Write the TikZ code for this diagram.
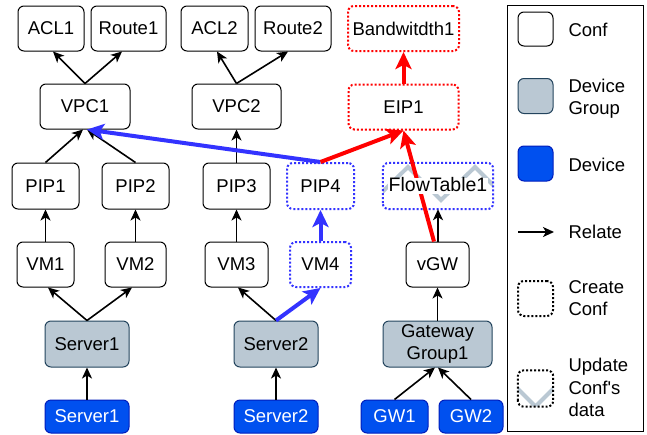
\documentclass[tikz,border=0pt]{standalone}
\usepackage{fontspec}
\setmainfont{Liberation Sans}
\usetikzlibrary{arrows.meta}
\definecolor{grpfill}{HTML}{BAC8D3}
\definecolor{grpline}{HTML}{23445D}
\definecolor{devfill}{HTML}{0050EF}
\definecolor{devline}{HTML}{001DBC}
\definecolor{newblue}{HTML}{3333FF}
\definecolor{newred}{HTML}{FF0000}

\begin{document}
\begin{tikzpicture}[x=1pt,y=-1pt,
  every node/.style={font=\fontsize{18.5}{22.5}\selectfont},
  box/.style={draw, line width=1pt, rounded corners=6pt, fill=white,
    inner sep=0pt, align=center},
  conf/.style={box},
  grp/.style={box, fill=grpfill, draw=grpline},
  dev/.style={box, fill=devfill, draw=devline, text=white},
  newconf/.style={box, draw=#1, line width=2pt, dash pattern=on 2pt off 2pt},
  rel/.style={-{Stealth[length=11pt,width=10pt,inset=3pt]}, line width=1.6pt},
  relblue/.style={-{Stealth[length=17pt,width=16pt,inset=4pt]}, line width=4pt, draw=newblue},
  relred/.style={-{Stealth[length=17pt,width=16pt,inset=4pt]}, line width=4pt, draw=newred},
  legtext/.style={anchor=west, align=left},
]
\useasboundingbox (0,0) rectangle (647,434);

% ---- top row: configuration entries
\node[conf, minimum width=66pt, minimum height=45pt] (acl1) at (51,28.5) {ACL1};
\node[conf, minimum width=75pt, minimum height=45pt] (route1) at (128.5,28.5) {Route1};
\node[conf, minimum width=67pt, minimum height=45pt] (acl2) at (214.5,28.5) {ACL2};
\node[conf, minimum width=76pt, minimum height=45pt] (route2) at (293,28.5) {Route2};
\node[newconf=newred, minimum width=111pt, minimum height=45pt] (bw1) at (403.5,28.5) {Bandwitdth1};

% ---- VPC / EIP row
\node[conf, minimum width=90pt, minimum height=45pt] (vpc1) at (85,106.5) {VPC1};
\node[conf, minimum width=89pt, minimum height=45pt] (vpc2) at (236.5,106.5) {VPC2};
\node[newconf=newred, minimum width=110pt, minimum height=45pt] (eip1) at (403.5,107) {EIP1};

% ---- PIP / flow table row
\node[conf, minimum width=67pt, minimum height=46pt] (pip1) at (45.5,186) {PIP1};
\node[conf, minimum width=67pt, minimum height=46pt] (pip2) at (135.5,186) {PIP2};
\node[conf, minimum width=67pt, minimum height=46pt] (pip3) at (236.5,186) {PIP3};
\node[newconf=newblue, minimum width=67pt, minimum height=46pt] (pip4) at (320.5,186) {PIP4};

% flow table: transparent box with the zigzag update marking
\node[minimum width=110pt, minimum height=46pt, inner sep=0pt] (ft) at (438,186) {};
\begin{scope}
  \clip[rounded corners=6pt] (ft.south west) rectangle (ft.north east);
  \draw[grpfill, line width=4pt] (340,167) -- (374,200) -- (408,167) -- (441,200)
    -- (475,167) -- (508,200) -- (541,167);
\end{scope}
\draw[newblue, line width=2pt, dash pattern=on 2pt off 2pt, rounded corners=6pt]
  (ft.south west) rectangle (ft.north east);

% ---- VM row
\node[conf, minimum width=57pt, minimum height=45pt] (vm1) at (45.5,264.5) {VM1};
\node[conf, minimum width=61pt, minimum height=45pt] (vm2) at (135.5,264.5) {VM2};
\node[conf, minimum width=63pt, minimum height=45pt] (vm3) at (236.5,264.5) {VM3};
\node[newconf=newblue, minimum width=61pt, minimum height=45pt] (vm4) at (320.5,264.5) {VM4};
\node[conf, minimum width=63pt, minimum height=45pt] (vgw) at (437.5,264.5) {vGW};

% ---- device groups
\node[grp, minimum width=84pt, minimum height=46pt] (srvgrp1) at (87,344) {Server1};
\node[grp, minimum width=84pt, minimum height=46pt] (srvgrp2) at (276,344) {Server2};
\node[grp, minimum width=109pt, minimum height=46pt] (gwgrp1) at (437.5,344) {Gateway\\[-1pt]Group1};

% ---- devices
\node[dev, minimum width=84pt, minimum height=33pt] (srvdev1) at (87,416.5) {Server1};
\node[dev, minimum width=84pt, minimum height=33pt] (srvdev2) at (276,416.5) {Server2};
\node[dev, minimum width=67pt, minimum height=33pt] (gw1) at (394.5,416.5) {GW1};
\node[dev, minimum width=64pt, minimum height=33pt] (gw2) at (471,416.5) {GW2};

% ---- relations
\draw[rel] (vpc1.north) -- ([xshift=2pt]acl1.south);
\draw[rel] (vpc1.north) -- ([xshift=-6.5pt]route1.south);
\draw[rel] (vpc2.north) -- ([xshift=2.5pt]acl2.south);
\draw[rel] (vpc2.north) -- ([xshift=-5pt]route2.south);
\draw[rel] (pip1.north) -- ([xshift=-2pt]vpc1.south);
\draw[rel] (pip2.north) -- ([xshift=2pt]vpc1.south);
\draw[rel] (pip3.north) -- (vpc2.south);
\draw[rel] (vm1.north) -- (pip1.south);
\draw[rel] (vm2.north) -- (pip2.south);
\draw[rel] (vm3.north) -- (pip3.south);
\draw[rel] (srvgrp1.north) -- ([xshift=2.5pt]vm1.south);
\draw[rel] (srvgrp1.north) -- ([xshift=-3.5pt]vm2.south);
\draw[rel] (srvgrp2.north) -- ([xshift=1.5pt]vm3.south);
\draw[rel] (srvdev1.north) -- (srvgrp1.south);
\draw[rel] (srvdev2.north) -- (srvgrp2.south);
\draw[rel] (gw1.north) -- ([xshift=-2.5pt]gwgrp1.south);
\draw[rel] (gw2.north) -- ([xshift=0.5pt]gwgrp1.south);
\draw[rel] (gwgrp1.north) -- (vgw.south);
\draw[rel] ([xshift=0.5pt]vgw.north) -- (ft.south);

% new relations
\draw[relblue] (srvgrp2.north) -- (vm4.south);
\draw[relblue] (vm4.north) -- (pip4.south);
\draw[relblue] (pip4.north) -- ([xshift=2pt]vpc1.south);
\draw[relred] (pip4.north) -- (eip1.south);
\draw[relred] ([xshift=-3.5pt]vgw.north) -- (eip1.south);
\draw[relred] (eip1.north) -- (bw1.south);

% flow table label above the crossing line
\node[fill=white, inner sep=1pt, text height=12pt, text depth=2pt,
  font=\fontsize{19.5}{22.5}\selectfont] (ftlabel) at (ft.center) {FlowTable1};

% ---- legend
\node[draw, line width=1pt, minimum width=136pt, minimum height=426pt, inner sep=0pt] (legend) at (575,218) {};
\node[conf, minimum width=35pt, minimum height=34pt] (lconf) at (535.5,29) {};
\node[legtext] (lconft) at (565,30) {Conf};
\node[grp, minimum width=35pt, minimum height=35pt] (lgrp) at (535.5,96) {};
\node[legtext] (lgrpt) at (565,98.5) {Device\\Group};
\node[dev, minimum width=35pt, minimum height=35pt] (ldev) at (535.5,163.5) {};
\node[legtext] (ldevt) at (565,165) {Device};
\coordinate (lrels) at (518,232);
\coordinate (lrele) at (554,232);
\draw[rel] (lrels) -- (lrele);
\node[legtext] (lrelt) at (565,232) {Relate};
\node[newconf=black, minimum width=35pt, minimum height=35pt] (lnew) at (535.5,298.5) {};
\node[legtext] (lnewt) at (565,298) {Create\\Conf};
\node[minimum width=35pt, minimum height=36pt, inner sep=0pt] (lupd) at (535.5,388.5) {};
\begin{scope}
  \clip[rounded corners=6pt] (lupd.south west) rectangle (lupd.north east);
  \draw[grpfill, line width=4pt] (510,381) -- (535.5,406.5) -- (561,381);
\end{scope}
\draw[black, line width=2pt, dash pattern=on 2pt off 2pt, rounded corners=6pt]
  (lupd.south west) rectangle (lupd.north east);
\node[legtext] (lupdt) at (565,387.5) {Update\\Conf\textquotesingle s\\data};
\end{tikzpicture}
\end{document}
